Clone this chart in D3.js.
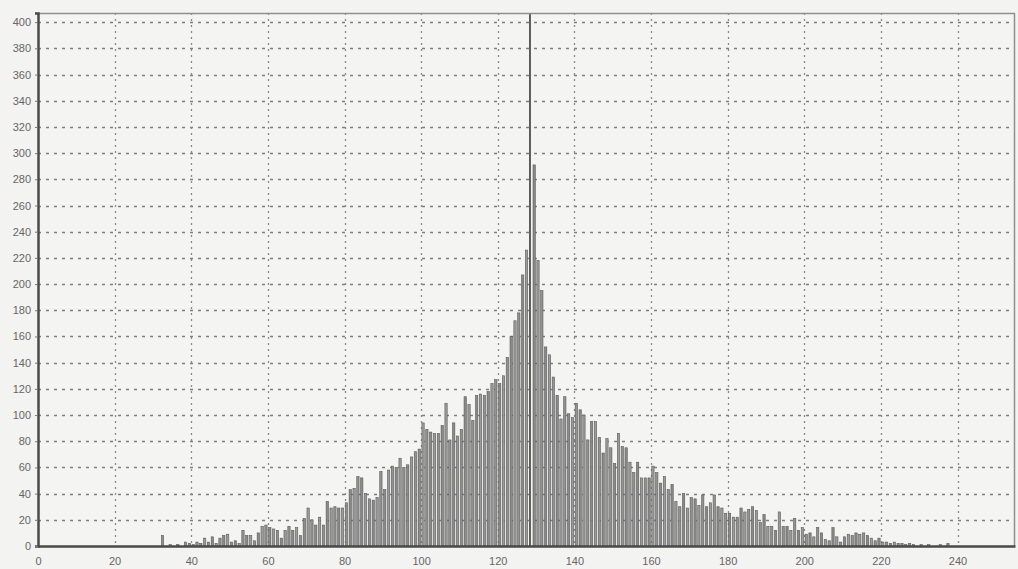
<!DOCTYPE html>
<html>
<head>
<meta charset="utf-8">
<script src="https://cdn.jsdelivr.net/npm/d3@7"></script>
<style>
  html, body { margin: 0; padding: 0; background: #f3f3f1; }
  svg { display: block; }
</style>
</head>
<body>
<svg id="chart" width="1018" height="569"></svg>
<script>
// Histogram bins 0..255 (count per grey level)
const bins = d3.range(0, 256);
const counts = [
  // 0-31
  0,0,0,0,0,0,0,0,0,0,0,0,0,0,0,0,0,0,0,0,0,0,0,0,0,0,0,0,0,0,0,0,
  // 32-63
  8,0,1,0,1,0,3,2,1,3,2,6,3,7,2,6,8,9,3,4,2,12,8,8,4,10,15,16,14,13,12,6,
  // 64-95
  12,15,12,14,8,21,29,20,16,22,16,34,29,30,29,29,33,43,44,53,52,40,36,35,37,57,43,58,61,60,67,60,
  // 96-127
  62,68,72,74,94,89,87,86,86,92,109,81,94,84,89,114,108,96,115,116,115,118,124,127,124,130,144,160,172,178,207,226,
  // 128-159
  440,291,218,195,152,146,129,115,97,114,101,98,109,104,100,81,95,95,83,71,82,75,63,86,76,75,64,56,64,52,52,52,
  // 160-191
  61,56,48,53,43,47,34,30,40,29,37,36,31,39,30,33,39,30,29,25,25,22,22,29,26,28,30,27,18,24,15,15,
  // 192-223
  12,26,15,15,12,21,12,14,9,10,7,14,10,5,4,14,7,3,7,9,8,10,9,10,8,6,4,6,3,3,2,3,
  // 224-255
  2,2,1,2,1,0,1,0,1,0,0,1,0,2,0,0,0,0,0,0,0,0,0,0,0,0,0,0,0,0,0,0
];
const xTicks = [0, 20, 40, 60, 80, 100, 120, 140, 160, 180, 200, 220, 240];
const yTicks = d3.range(0, 401, 20);

const svg = d3.select("#chart");
const pL = 38, pR = 1015, pT = 13, pB = 546;

const x = d3.scaleLinear().domain([0, 255]).range([pL, pR]);
const y = d3.scaleLinear().domain([0, 407]).range([pB, pT]);

svg.append("defs").append("clipPath").attr("id", "plotclip")
  .append("rect").attr("x", pL).attr("y", pT).attr("width", pR - pL).attr("height", pB - pT);

// plot background
svg.append("rect").attr("x", pL).attr("y", pT).attr("width", pR - pL).attr("height", pB - pT)
  .attr("fill", "#f4f4f2");

// grid
const grid = svg.append("g");
grid.selectAll("line.h").data(yTicks.filter(d => d > 0)).join("line")
  .attr("x1", pL).attr("x2", pR)
  .attr("y1", d => Math.round(y(d)) + 0.5).attr("y2", d => Math.round(y(d)) + 0.5)
  .attr("stroke", "#7e7e7e").attr("stroke-width", 1.4).attr("stroke-dasharray", "3,5");
grid.selectAll("line.v").data(xTicks.filter(d => d > 0)).join("line")
  .attr("y1", pT).attr("y2", pB)
  .attr("x1", d => Math.round(x(d)) + 0.5).attr("x2", d => Math.round(x(d)) + 0.5)
  .attr("stroke", "#8a8a8a").attr("stroke-width", 1.3).attr("stroke-dasharray", "2,4");

// bars
const bw = x(1) - x(0);
svg.append("g").attr("clip-path", "url(#plotclip)")
  .selectAll("rect").data(bins).join("rect")
  .attr("x", d => x(d) + bw * 0.2)
  .attr("width", d => d === 128 ? 1.6 : bw * 0.6)
  .attr("y", d => y(counts[d]))
  .attr("height", d => Math.max(0, pB - y(counts[d])))
  .attr("fill", (d, i) => d === 128 ? "#3a3a3a" : (i % 3 === 0 ? "#8a8a8a" : (i % 3 === 1 ? "#9c9c9c" : "#929292")))
  .attr("stroke", d => d === 128 ? "none" : "#5a5a5a")
  .attr("stroke-width", 0.6);

// frame
svg.append("line").attr("x1", pL).attr("x2", pR).attr("y1", pT + 0.5).attr("y2", pT + 0.5)
  .attr("stroke", "#8f8f8f").attr("stroke-width", 1.5);
svg.append("line").attr("x1", pR - 0.5).attr("x2", pR - 0.5).attr("y1", pT).attr("y2", pB)
  .attr("stroke", "#8f8f8f").attr("stroke-width", 1.5);

// axes
const yAxis = d3.axisLeft(y).tickValues(yTicks).tickSize(3).tickPadding(4).tickFormat(d3.format("d"));
const xAxis = d3.axisBottom(x).tickValues(xTicks).tickSize(0).tickPadding(11).tickFormat(d3.format("d"));

const gy = svg.append("g").attr("transform", `translate(${pL},0)`).call(yAxis);
const gx = svg.append("g").attr("transform", `translate(0,${pB})`).call(xAxis);
[gy, gx].forEach(g => {
  g.select(".domain").attr("stroke", "#4a4a4a").attr("stroke-width", 2.5);
  g.selectAll(".tick line").attr("stroke", "#777");
  g.selectAll("text").attr("fill", "#666").attr("font-family", "Liberation Sans, Arial, sans-serif")
    .attr("font-size", 11);
});
</script>
</body>
</html>
